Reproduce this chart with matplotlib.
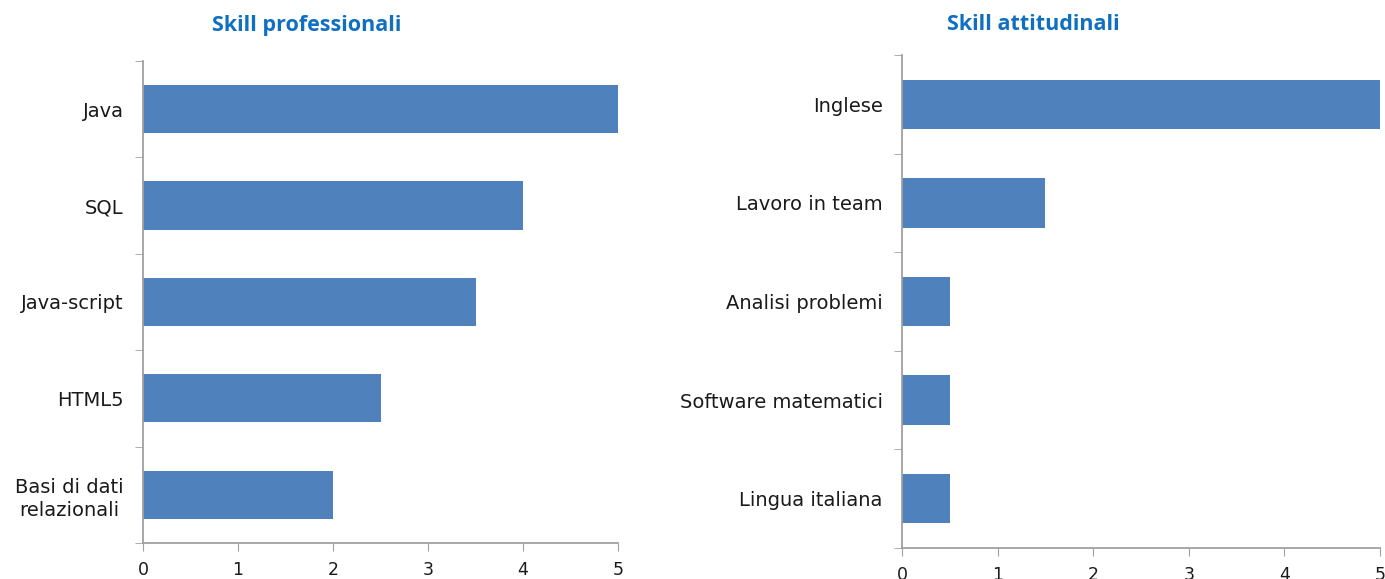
import matplotlib
matplotlib.use('Agg')
import matplotlib.pyplot as plt
import numpy as np

plt.rcParams['font.family'] = ['DejaVu Sans']

# data
prof_labels = ['Java', 'SQL', 'Java-script', 'HTML5', 'Basi di dati\nrelazionali']
prof_values = [5, 4, 3.5, 2.5, 2]
att_labels = ['Inglese', 'Lavoro in team', 'Analisi problemi',
              'Software matematici', 'Lingua italiana']
att_values = [5, 1.5, 0.5, 0.5, 0.5]
x_ticks = [0, 1, 2, 3, 4, 5]

bar_color = '#4F81BD'
spine_color = '#A0A0A0'
title_color = '#0F6FC0'

fig = plt.figure(figsize=(13.85, 5.79), dpi=100)
ax1 = fig.add_axes([0.1033, 0.0622, 0.3430, 0.8325])
ax2 = fig.add_axes([0.6513, 0.0535, 0.3451, 0.8515])


def draw(ax, labels, values, title, title_x, title_y):
    y = np.arange(len(labels))
    ax.barh(y, values, height=0.5, color=bar_color)
    ax.set_ylim(len(labels) - 0.5, -0.5)
    ax.set_xlim(0, 5)
    ax.set_xticks(x_ticks)
    ax.set_yticks(y)
    ax.set_yticklabels(labels, fontsize=14, color='#1A1A1A', ha='right',
                       multialignment='center', linespacing=1.3)
    ax.set_yticks(np.arange(len(labels) + 1) - 0.5, minor=True)
    ax.tick_params(axis='y', which='major', length=0, pad=14)
    ax.tick_params(axis='y', which='minor', length=6, color=spine_color,
                   direction='out')
    ax.tick_params(axis='x', length=6, color=spine_color, labelsize=12.5,
                   labelcolor='#1A1A1A', pad=7)
    for s in ['top', 'right']:
        ax.spines[s].set_visible(False)
    for s in ['left', 'bottom']:
        ax.spines[s].set_color(spine_color)
        ax.spines[s].set_linewidth(1.3)
    fig.text(title_x, title_y, title, ha='center', va='center', fontsize=15.5,
             fontweight='bold', color=title_color, family=['Open Sans', 'DejaVu Sans'])


draw(ax1, prof_labels, prof_values, 'Skill professionali', 307 / 1385, 1 - 26 / 579)
draw(ax2, att_labels, att_values, 'Skill attitudinali', 1033 / 1385, 1 - 24 / 579)

fig.savefig('out.png', dpi=100)
